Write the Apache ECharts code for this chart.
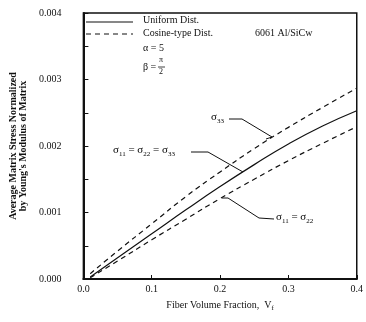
<!DOCTYPE html>
<html>
<head>
<meta charset="utf-8">
<script src="https://cdn.jsdelivr.net/npm/echarts@6/dist/echarts.min.js"></script>
<style>
  html, body { margin: 0; padding: 0; background: #fff; }
  #chart { width: 366px; height: 322px; }
</style>
</head>
<body>
<div id="chart"></div>
<script>
// fiber volume fraction
var vf = [0.01, 0.05, 0.1, 0.15, 0.2, 0.25, 0.3, 0.35, 0.4];
// uniform dist, all components equal
var uniform = [0.00003, 0.00032, 0.00068, 0.00104, 0.00139, 0.00172, 0.00203, 0.00230, 0.00253];
// cosine-type dist
var cosS33 = [0.00008, 0.00042, 0.00083, 0.00124, 0.00161, 0.00196, 0.00228, 0.00258, 0.00287];
var cosS11 = [0.00002, 0.00027, 0.00059, 0.00090, 0.00121, 0.00150, 0.00178, 0.00204, 0.00229];
var xTicks = ['0.0', '0.1', '0.2', '0.3', '0.4'];
var yTicks = ['0.000', '0.001', '0.002', '0.003', '0.004'];

var serif = '"Liberation Serif", "DejaVu Serif", serif';
var zip = function (xs, ys) { return xs.map(function (x, i) { return [x, ys[i]]; }); };

var chart = echarts.init(document.getElementById('chart'));
var sub = {
    s: {fontFamily: serif, fontSize: 11, color: '#111', lineHeight: 14},
    b: {fontFamily: serif, fontSize: 7, color: '#111', lineHeight: 14, verticalAlign: 'bottom', padding: [4, 0, 0, 0]}
};
var leader = {stroke: '#111', lineWidth: 1, fill: null};
var txt = function (x, y, s, size) {
    return {type: 'text', left: x, top: y, style: {text: s, fontFamily: serif, fontSize: size || 10, fill: '#111'}};
};

chart.setOption({
    animation: false,
    grid: {left: 82, right: 9, top: 13, bottom: 43, show: true, borderColor: '#111', borderWidth: 1.5},
    xAxis: {
        type: 'value', min: 0, max: 0.4, interval: 0.1,
        axisLine: {lineStyle: {color: '#111', width: 2}},
        axisTick: {inside: true, length: 4, lineStyle: {color: '#111'}},
        splitLine: {show: false},
        axisLabel: {
            margin: 5, fontFamily: serif, fontSize: 10, color: '#111',
            formatter: function (v) { return xTicks[Math.round(v * 10)]; }
        },
        name: '{a|Fiber Volume Fraction,  V}{b|f}',
        nameLocation: 'middle', nameGap: 19,
        nameTextStyle: {
            rich: {
                a: {fontFamily: serif, fontSize: 10, color: '#111', lineHeight: 14},
                b: {fontFamily: serif, fontSize: 7, color: '#111', lineHeight: 14, verticalAlign: 'bottom'}
            }
        }
    },
    yAxis: {
        type: 'value', min: 0, max: 0.004, interval: 0.0005,
        axisLine: {lineStyle: {color: '#111', width: 2}},
        axisTick: {inside: true, length: 5, lineStyle: {color: '#111'}},
        splitLine: {show: false},
        axisLabel: {
            margin: 22, fontFamily: serif, fontSize: 10, color: '#111',
            formatter: function (v) {
                var k = Math.round(v / 0.0005);
                return k % 2 === 0 ? yTicks[k / 2] : '';
            }
        },
        name: 'Average Matrix Stress Normalized\nby Young\'s Modulus of Matrix',
        nameLocation: 'middle', nameGap: 55,
        nameTextStyle: {fontFamily: serif, fontSize: 10, color: '#111', lineHeight: 10, fontWeight: 'bold'}
    },
    series: [
        {
            name: 'Uniform Dist.', type: 'line', smooth: true, symbol: 'none',
            lineStyle: {color: '#111', width: 1.2},
            data: zip(vf, uniform)
        },
        {
            name: 'Cosine-type Dist.', type: 'line', smooth: true, symbol: 'none',
            lineStyle: {color: '#111', width: 1.2, type: [5, 4]},
            data: zip(vf, cosS33)
        },
        {
            name: 'Cosine-type Dist.', type: 'line', smooth: true, symbol: 'none',
            lineStyle: {color: '#111', width: 1.2, type: [5, 4]},
            data: zip(vf, cosS11)
        }
    ],
    graphic: [
        // legend
        {type: 'line', shape: {x1: 86, y1: 22, x2: 133, y2: 22}, style: {stroke: '#111', lineWidth: 1.2}},
        {type: 'line', shape: {x1: 86, y1: 34, x2: 133, y2: 34}, style: {stroke: '#111', lineWidth: 1.2, lineDash: [5, 4]}},
        txt(143, 15, 'Uniform Dist.'),
        txt(143, 28, 'Cosine-type Dist.'),
        txt(143, 43, 'α = 5'),
        txt(143, 62, 'β ='),
        txt(159, 56, 'π', 8),
        {type: 'line', shape: {x1: 158, y1: 67, x2: 165, y2: 67}, style: {stroke: '#111', lineWidth: 0.8}},
        txt(159, 68, '2', 8),
        txt(255, 28, '6061 Al/SiCw'),
        // sigma33 callout
        {type: 'text', left: 211, top: 112, style: {text: '{s|σ}{b|33}', rich: sub}},
        {type: 'polyline', shape: {points: [[229, 119], [242, 119], [272, 137], [266, 139]]}, style: leader},
        // sigma11 = sigma22 = sigma33 callout
        {type: 'text', left: 113, top: 145, style: {text: '{s|σ}{b|11}{s| = σ}{b|22}{s| = σ}{b|33}', rich: sub}},
        {type: 'polyline', shape: {points: [[191, 152], [208, 152], [243, 172]]}, style: leader},
        // sigma11 = sigma22 callout
        {type: 'polyline', shape: {points: [[222, 198], [228, 198], [259, 218], [274, 219]]}, style: leader},
        {type: 'text', left: 276, top: 212, style: {text: '{s|σ}{b|11}{s| = σ}{b|22}', rich: sub}}
    ]
});
</script>
</body>
</html>
